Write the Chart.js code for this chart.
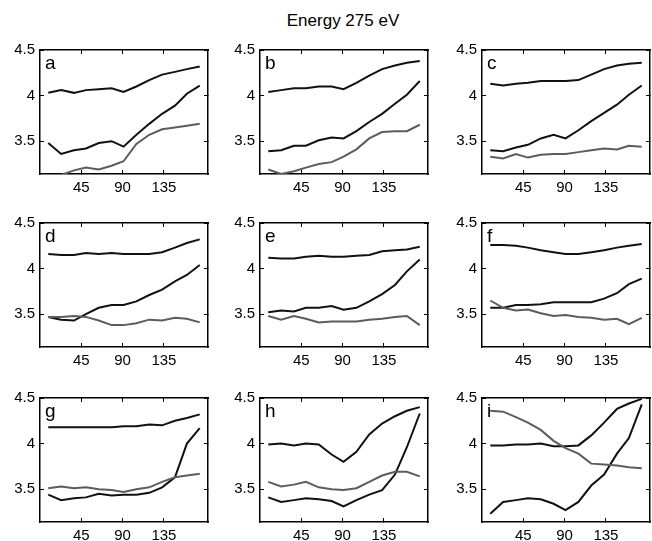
<!DOCTYPE html>
<html>
<head>
<meta charset="utf-8">
<script src="https://cdn.jsdelivr.net/npm/chart.js@4.4.0/dist/chart.umd.min.js"></script>
<style>
    html, body { margin: 0; padding: 0; background: #fff; overflow: hidden; width: 652px; height: 541px; }
    #wrap { position: relative; width: 652px; height: 541px; overflow: hidden; }
    #title {
        position: absolute; left: 243px; width: 200px; top: 11px;
        text-align: center; font: 17px "Liberation Sans", Arial, sans-serif; color: #000;
    }
    .panel { position: absolute; }
    .panel canvas { display: block; }
</style>
</head>
<body>
<div id="wrap">
    <div id="title">Energy 275 eV</div>
</div>
<script>
// angle positions of the samples and axis ticks
const angles = [9, 23, 37, 50, 64, 78, 91, 105, 119, 133, 147, 160, 174];
const xTicks = [45, 90, 135];
const yTicks = [3.5, 4, 4.5];

// two black series (1, 2) and one grey series (3) per panel
const a1 = [4.03, 4.06, 4.03, 4.06, 4.07, 4.08, 4.04, 4.10, 4.17, 4.23, 4.26, 4.29, 4.32];
const a2 = [3.48, 3.36, 3.40, 3.42, 3.48, 3.50, 3.44, 3.57, 3.69, 3.80, 3.89, 4.02, 4.11];
const a3 = [3.08, 3.13, 3.18, 3.21, 3.19, 3.23, 3.28, 3.47, 3.57, 3.63, 3.65, 3.67, 3.69];

const b1 = [4.04, 4.06, 4.08, 4.08, 4.10, 4.10, 4.07, 4.14, 4.22, 4.29, 4.33, 4.36, 4.38];
const b2 = [3.39, 3.40, 3.45, 3.45, 3.51, 3.54, 3.53, 3.61, 3.71, 3.80, 3.91, 4.01, 4.16];
const b3 = [3.19, 3.14, 3.17, 3.21, 3.25, 3.27, 3.33, 3.41, 3.53, 3.60, 3.61, 3.61, 3.68];

const c1 = [4.13, 4.11, 4.13, 4.14, 4.16, 4.16, 4.16, 4.17, 4.23, 4.29, 4.33, 4.35, 4.36];
const c2 = [3.40, 3.39, 3.43, 3.46, 3.53, 3.57, 3.53, 3.62, 3.72, 3.81, 3.90, 4.01, 4.11];
const c3 = [3.33, 3.31, 3.36, 3.32, 3.35, 3.36, 3.36, 3.38, 3.40, 3.42, 3.41, 3.45, 3.44];

const d1 = [4.16, 4.15, 4.15, 4.17, 4.16, 4.17, 4.16, 4.16, 4.16, 4.18, 4.23, 4.28, 4.32];
const d2 = [3.47, 3.44, 3.43, 3.50, 3.57, 3.60, 3.60, 3.64, 3.71, 3.77, 3.86, 3.93, 4.04];
const d3 = [3.47, 3.47, 3.48, 3.47, 3.43, 3.38, 3.38, 3.40, 3.44, 3.43, 3.46, 3.45, 3.41];

const e1 = [4.12, 4.11, 4.11, 4.13, 4.14, 4.13, 4.13, 4.14, 4.15, 4.19, 4.20, 4.21, 4.24];
const e2 = [3.52, 3.54, 3.53, 3.57, 3.57, 3.59, 3.55, 3.57, 3.64, 3.72, 3.82, 3.97, 4.10];
const e3 = [3.48, 3.44, 3.48, 3.45, 3.41, 3.42, 3.42, 3.42, 3.44, 3.45, 3.47, 3.48, 3.38];

const f1 = [4.26, 4.26, 4.25, 4.23, 4.20, 4.18, 4.16, 4.16, 4.18, 4.20, 4.23, 4.25, 4.27];
const f2 = [3.57, 3.57, 3.60, 3.60, 3.61, 3.63, 3.63, 3.63, 3.63, 3.67, 3.73, 3.83, 3.89];
const f3 = [3.65, 3.57, 3.54, 3.55, 3.51, 3.48, 3.49, 3.47, 3.46, 3.44, 3.45, 3.39, 3.46];

const g1 = [4.18, 4.18, 4.18, 4.18, 4.18, 4.18, 4.19, 4.19, 4.21, 4.20, 4.25, 4.28, 4.32];
const g2 = [3.44, 3.38, 3.40, 3.41, 3.45, 3.43, 3.44, 3.44, 3.46, 3.52, 3.63, 4.00, 4.17];
const g3 = [3.51, 3.53, 3.51, 3.52, 3.50, 3.49, 3.47, 3.50, 3.52, 3.58, 3.63, 3.65, 3.67];

const h1 = [3.99, 4.00, 3.98, 4.00, 3.99, 3.88, 3.80, 3.91, 4.10, 4.22, 4.30, 4.36, 4.40];
const h2 = [3.41, 3.36, 3.38, 3.40, 3.39, 3.37, 3.31, 3.38, 3.44, 3.49, 3.66, 3.96, 4.33];
const h3 = [3.58, 3.53, 3.55, 3.58, 3.52, 3.50, 3.49, 3.51, 3.58, 3.65, 3.69, 3.69, 3.64];

const i1 = [3.98, 3.98, 3.99, 3.99, 4.00, 3.97, 3.97, 3.98, 4.09, 4.23, 4.38, 4.44, 4.49];
const i2 = [3.23, 3.36, 3.38, 3.40, 3.39, 3.34, 3.27, 3.36, 3.54, 3.66, 3.89, 4.06, 4.43];
const i3 = [4.36, 4.35, 4.29, 4.23, 4.15, 4.03, 3.95, 3.89, 3.78, 3.77, 3.76, 3.74, 3.73];

const panels = [
    ['a', a1, a2, a3], ['b', b1, b2, b3], ['c', c1, c2, c3],
    ['d', d1, d2, d3], ['e', e1, e2, e3], ['f', f1, f2, f3],
    ['g', g1, g2, g3], ['h', h1, h2, h3], ['i', i1, i2, i3]
];

// plot area placement
const colLeft = [40, 260, 482];
const rowTop = [42, 215, 390];
const plotW = 168, plotH = 132;
const AXIS_W = 40, AXIS_H = 24, PAD_TOP = 10, PAD_RIGHT = 2;
const FONT = '"Liberation Sans", Arial, sans-serif';

// panel letter in the top left corner
const letterPlugin = {
    id: 'letter',
    afterDraw(chart) {
        const ctx = chart.ctx;
        const a = chart.chartArea;
        ctx.save();
        ctx.fillStyle = '#000';
        ctx.font = '19px ' + FONT;
        ctx.textBaseline = 'alphabetic';
        ctx.textAlign = 'left';
        ctx.fillText(chart.options.plugins.letter.text, a.left + 5, a.top + 19);
        ctx.restore();
    }
};

function series(vals, color) {
    return {
        data: angles.map((x, k) => ({ x: x, y: vals[k] })),
        borderColor: color,
        borderWidth: 2,
        pointRadius: 0,
        tension: 0,
        fill: false
    };
}

// an axis drawn as one side of the box, with 4px tick marks pointing inward
function boxAxis(position, ticksList, min, max, labelled) {
    const horizontal = position === 'top' || position === 'bottom';
    return {
        type: 'linear',
        position: position,
        min: min,
        max: max,
        border: { display: true, color: '#000', width: 1.5 },
        grid: {
            display: true,
            drawOnChartArea: false,
            drawTicks: true,
            tickLength: -4,
            color: '#000',
            lineWidth: 1
        },
        afterBuildTicks: s => { s.ticks = ticksList.map(v => ({ value: v })); },
        afterFit: s => {
            if (horizontal) s.height = labelled ? AXIS_H : 0;
            else s.width = labelled ? AXIS_W : 0;
        },
        ticks: {
            display: labelled,
            color: '#000',
            padding: 9,
            maxRotation: 0,
            font: { family: FONT, size: 15 },
            callback: v => String(v)
        }
    };
}

function createPanel(idx) {
    const [letter, s1, s2, s3] = panels[idx];
    const col = idx % 3, row = Math.floor(idx / 3);

    const div = document.createElement('div');
    div.className = 'panel';
    div.style.left = (colLeft[col] - AXIS_W) + 'px';
    div.style.top = (rowTop[row] - PAD_TOP) + 'px';
    const canvas = document.createElement('canvas');
    canvas.width = AXIS_W + plotW + PAD_RIGHT;
    canvas.height = PAD_TOP + plotH + AXIS_H;
    canvas.style.width = canvas.width + 'px';
    canvas.style.height = canvas.height + 'px';
    div.appendChild(canvas);
    document.getElementById('wrap').appendChild(div);

    new Chart(canvas.getContext('2d'), {
        type: 'line',
        data: {
            datasets: [
                series(s3, '#5c5c5c'),
                series(s2, '#111111'),
                series(s1, '#111111')
            ]
        },
        options: {
            responsive: false,
            animation: false,
            layout: { padding: { top: PAD_TOP, right: PAD_RIGHT, left: 0, bottom: 0 } },
            plugins: {
                legend: { display: false },
                tooltip: { enabled: false },
                letter: { text: letter }
            },
            scales: {
                x: boxAxis('bottom', xTicks, 0, 183, true),
                y: boxAxis('left', yTicks, 3.14, 4.5, true),
                xTop: boxAxis('top', xTicks, 0, 183, false),
                yRight: boxAxis('right', yTicks, 3.14, 4.5, false)
            }
        },
        plugins: [letterPlugin]
    });
}

panels.forEach((p, idx) => createPanel(idx));
</script>
</body>
</html>
